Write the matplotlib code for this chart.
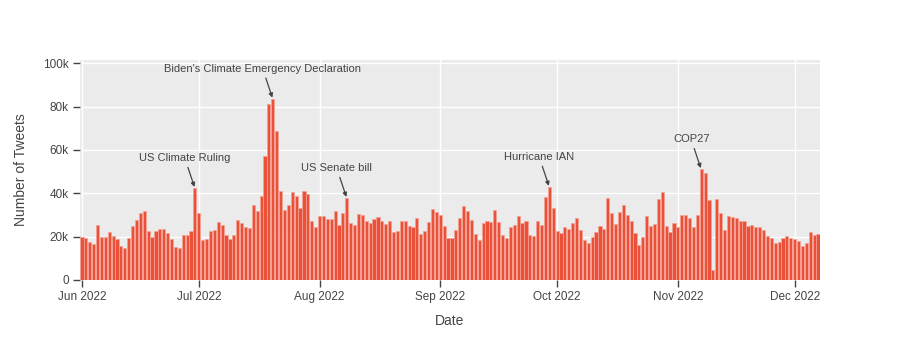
import numpy as np
import pandas as pd
import matplotlib
matplotlib.use('Agg')
import matplotlib.pyplot as plt
import matplotlib.dates as mdates
from matplotlib.ticker import FuncFormatter

plt.rcParams['font.family'] = ['Liberation Sans', 'DejaVu Sans']

# daily tweet counts, in thousands
jun = [19.7, 19.4, 17.4, 16.5, 25.5, 19.8, 19.8, 22, 20.5, 18.8, 15.7, 14.8, 19.2, 25, 27.7,
       31, 32, 22.8, 19.8, 22.6, 23.7, 23.4, 21.8, 18.9, 15.4, 14.8, 20.8, 20.8, 22.5, 42.3]
jul = [30.8, 18.5, 18.8, 22.8, 23.2, 26.8, 25.4, 20.8, 18.9, 20.8, 27.5, 26.2, 24.6, 23.8, 34.8,
       31.8, 38.6, 57.4, 81.2, 83.5, 68.9, 41.2, 32.3, 34.8, 40.5, 38.8, 33.2, 41.1, 39.5, 27.2, 24.3]
aug = [29.4, 29.4, 28.3, 28, 32, 25.5, 30.8, 37.7, 26.5, 25.4, 30.6, 30, 27.1, 26.5, 28.3,
       29.2, 27.1, 25.8, 27.4, 22, 22.6, 27.1, 27.2, 25.1, 24.3, 28.6, 21.4, 22.5, 26.9, 32.8, 31.4]
sep = [30.2, 24.9, 19.5, 19.5, 22.9, 28.6, 34, 32, 27.5, 21.4, 18.3, 26.3, 27.2, 26.8, 32.3,
       26.8, 20.6, 19.2, 24.5, 25.4, 29.5, 26.2, 27.4, 20.8, 20.3, 27.4, 25.5, 38.5, 42.8, 33.4]
oct_ = [22.6, 21.5, 24.3, 23.4, 26.2, 28.6, 23.2, 18.6, 17.2, 19.7, 22.3, 24.8, 23.5, 37.7, 30.9,
        25.8, 31.2, 34.8, 30, 27.1, 21.7, 16.3, 19.7, 29.4, 25.1, 26, 37.4, 40.6, 24.8, 22.2, 26.3]
nov = [24.5, 30.2, 30, 28.5, 24.3, 30, 51, 49.5, 37, 4.5, 37.2, 30.9, 23.2, 29.4, 29.1,
       28.5, 27.2, 27.1, 24.8, 25.4, 24.3, 24.3, 23.1, 20.3, 19.4, 17.2, 17.4, 19.5, 20.5, 19.2]
dec = [18.8, 18, 15.5, 17.1, 22, 20.8, 21.1]

counts = np.array(jun + jul + aug + sep + oct_ + nov + dec) * 1000
dates = pd.date_range('2022-06-01', periods=len(counts), freq='D')

events = [
    ('2022-06-30', 'US Climate Ruling'),
    ('2022-07-20', "Biden's Climate Emergency Declaration"),
    ('2022-08-08', 'US Senate bill'),
    ('2022-09-29', 'Hurricane IAN'),
    ('2022-11-07', 'COP27'),
]

fig = plt.figure(figsize=(9, 3.6), dpi=100)
ax = fig.add_axes([80 / 900, 1 - 280 / 360, 740 / 900, 220 / 360])
ax.set_facecolor('#EBEBEB')

ax.bar(dates, counts, width=0.8, color='#EB5039', edgecolor='#F5A395', linewidth=0.5, zorder=2)

ax.set_xlim(pd.Timestamp('2022-05-31 12:00'), pd.Timestamp('2022-12-07 12:00'))
ax.set_ylim(0, 101500)

ax.xaxis.set_major_locator(mdates.MonthLocator())
ax.xaxis.set_major_formatter(mdates.DateFormatter('%b %Y'))
ax.set_yticks([0, 20000, 40000, 60000, 80000, 100000])
ax.yaxis.set_major_formatter(FuncFormatter(lambda v, p: '0' if v == 0 else f'{int(v / 1000)}k'))

ax.grid(True, color='white', linewidth=1, zorder=0)
ax.set_axisbelow(True)
for s in ax.spines.values():
    s.set_visible(False)
ax.tick_params(axis='both', colors='#444444', labelsize=8.5, length=5, width=1, direction='out', pad=3)

ax.set_xlabel('Date', fontsize=10, color='#444444', labelpad=8)
ax.set_ylabel('Number of Tweets', fontsize=10, color='#444444', labelpad=11)

for d, label in events:
    dt = pd.Timestamp(d)
    val = counts[dates.get_loc(dt)]
    ax.annotate(label, xy=(dt, val), xytext=(-10, 30), textcoords='offset pixels',
                ha='center', va='center', fontsize=8, color='#444444',
                arrowprops=dict(arrowstyle='-|>', color='#444444', lw=0.9,
                                mutation_scale=6, shrinkA=1, shrinkB=1),
                annotation_clip=False, zorder=5)

fig.savefig('out.png', dpi=100)
